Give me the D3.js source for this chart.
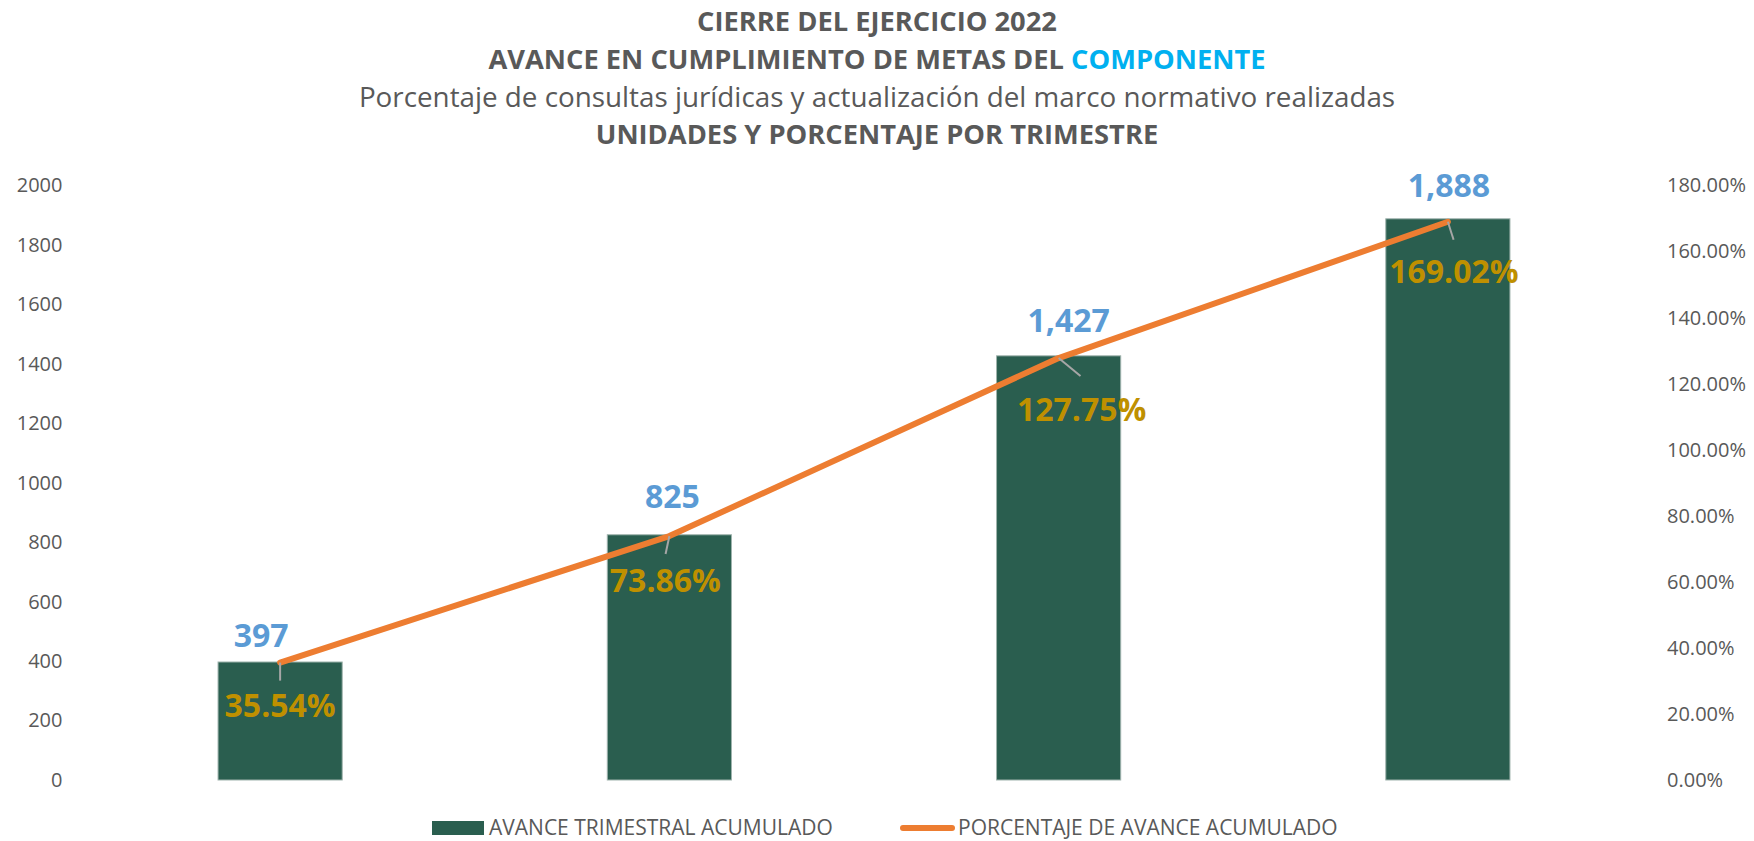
<!DOCTYPE html>
<html>
<head>
<meta charset="utf-8">
<script src="https://cdn.jsdelivr.net/npm/d3@7"></script>
<style>
  body { margin: 0; background: #fff; }
  svg text { font-family: "Open Sans", sans-serif; }
  .axis text { fill: #595959; font-size: 20px; }
</style>
</head>
<body>
<div id="chart"></div>
<script>
// data
var quarters = ["Trimestre 1", "Trimestre 2", "Trimestre 3", "Trimestre 4"];
var avance = [397, 825, 1427, 1888];
var porcentaje = [0.3554, 0.7386, 1.2775, 1.6902];
var leftTicks = [0, 200, 400, 600, 800, 1000, 1200, 1400, 1600, 1800, 2000];
var rightTicks = [0, 0.2, 0.4, 0.6, 0.8, 1.0, 1.2, 1.4, 1.6, 1.8];

// hand placed label nudges (px), like the excel data labels
var valueNudge = [[-19, -15], [3, -27], [10, -24], [1, -22]];
var pctNudge = [[0, 54], [-4, 56], [23, 63], [6, 61]];

var W = 1754, H = 841;
var margin = { top: 185.5, right: 111.5, bottom: 61, left: 85.5 },
    w = W - margin.left - margin.right,
    h = H - margin.top - margin.bottom;

var svg = d3.select('#chart')
    .append('svg')
    .attr('width', W)
    .attr('height', H);

// titles
var titles = svg.append('g').attr('fill', '#595959').attr('text-anchor', 'middle');
titles.append('text').attr('x', W / 2).attr('y', 31)
    .style('font-size', '27.3px').style('font-weight', 700)
    .text('CIERRE DEL EJERCICIO 2022');
var t2 = titles.append('text').attr('x', W / 2).attr('y', 69)
    .style('font-size', '27.3px').style('font-weight', 700);
t2.append('tspan').text('AVANCE EN CUMPLIMIENTO DE METAS DEL ');
t2.append('tspan').attr('fill', '#00B0F0').text('COMPONENTE');
titles.append('text').attr('x', W / 2).attr('y', 107)
    .style('font-size', '27.8px')
    .text('Porcentaje de consultas jurídicas y actualización del marco normativo realizadas');
titles.append('text').attr('x', W / 2).attr('y', 144)
    .style('font-size', '27.3px').style('font-weight', 700)
    .text('UNIDADES Y PORCENTAJE POR TRIMESTRE');

var g = svg.append('g')
    .attr('transform', `translate(${margin.left},${margin.top})`);

var xScale = d3.scaleBand()
    .domain(quarters)
    .range([0, w])
    .paddingInner(0.681)
    .paddingOuter(0.3405);

var yScale = d3.scaleLinear().domain([0, 2000]).range([h, 0]);
var y2Scale = d3.scaleLinear().domain([0, 1.8]).range([h, 0]);

var yAxis = d3.axisLeft(yScale).tickValues(leftTicks).tickSize(0).tickPadding(23)
    .tickFormat(d3.format('d'));
var y2Axis = d3.axisRight(y2Scale).tickValues(rightTicks).tickSize(0).tickPadding(24.5)
    .tickFormat(d3.format('.2%'));

g.append('g').attr('class', 'axis').call(yAxis)
    .call(function (a) { a.select('.domain').remove(); })
    .selectAll('text').style('font-family', '"Open Sans", sans-serif');

g.append('g').attr('class', 'axis')
    .attr('transform', `translate(${w},0)`)
    .call(y2Axis)
    .call(function (a) { a.select('.domain').remove(); })
    .selectAll('text').style('font-family', '"Open Sans", sans-serif');

var rows = quarters.map(function (q, i) {
    return { q: q, v: avance[i], p: porcentaje[i], i: i };
});

// bars
g.selectAll('.bar')
    .data(rows)
    .enter()
    .append('rect')
    .attr('class', 'bar')
    .attr('x', function (d) { return xScale(d.q); })
    .attr('y', function (d) { return yScale(d.v); })
    .attr('width', xScale.bandwidth())
    .attr('height', function (d) { return h - yScale(d.v); })
    .attr('fill', '#2A5E4F')
    .attr('stroke', '#9fb3ad')
    .attr('stroke-width', 1);

function cx(d) { return xScale(d.q) + xScale.bandwidth() / 2; }

// line
var line = d3.line()
    .x(cx)
    .y(function (d) { return y2Scale(d.p); });

g.append('path')
    .datum(rows)
    .attr('d', line)
    .attr('fill', 'none')
    .attr('stroke', '#ED7D31')
    .attr('stroke-width', 6)
    .attr('stroke-linecap', 'round')
    .attr('stroke-linejoin', 'round');

// leader lines from points to the percent labels
g.selectAll('.leader')
    .data(rows)
    .enter()
    .append('line')
    .attr('class', 'leader')
    .attr('x1', cx)
    .attr('y1', function (d) { return y2Scale(d.p); })
    .attr('x2', function (d) { return cx(d) + pctNudge[d.i][0] * 0.95; })
    .attr('y2', function (d) { return y2Scale(d.p) + 18; })
    .attr('stroke', '#A6A6A6')
    .attr('stroke-width', 2);

// value labels
g.selectAll('.vlabel')
    .data(rows)
    .enter()
    .append('text')
    .attr('class', 'vlabel')
    .attr('text-anchor', 'middle')
    .attr('x', function (d) { return cx(d) + valueNudge[d.i][0]; })
    .attr('y', function (d) { return yScale(d.v) + valueNudge[d.i][1]; })
    .attr('fill', '#5B9BD5')
    .style('font-size', '32px')
    .style('font-weight', 700)
    .text(function (d) { return d3.format(',')(d.v); });

// percent labels
g.selectAll('.plabel')
    .data(rows)
    .enter()
    .append('text')
    .attr('class', 'plabel')
    .attr('text-anchor', 'middle')
    .attr('x', function (d) { return cx(d) + pctNudge[d.i][0]; })
    .attr('y', function (d) { return y2Scale(d.p) + pctNudge[d.i][1]; })
    .attr('fill', '#BF9000')
    .style('font-size', '32px')
    .style('font-weight', 700)
    .text(function (d) { return d3.format('.2%')(d.p); });

// legend
var legend = svg.append('g').attr('transform', 'translate(0,828)');
legend.append('rect')
    .attr('x', 432).attr('y', -7).attr('width', 52).attr('height', 14)
    .attr('fill', '#2A5E4F');
legend.append('text')
    .attr('x', 489).attr('y', 6.5)
    .attr('fill', '#595959').style('font-size', '21px')
    .text('AVANCE TRIMESTRAL ACUMULADO');
legend.append('line')
    .attr('x1', 903).attr('x2', 952).attr('y1', 0).attr('y2', 0)
    .attr('stroke', '#ED7D31').attr('stroke-width', 6).attr('stroke-linecap', 'round');
legend.append('text')
    .attr('x', 958).attr('y', 6.5)
    .attr('fill', '#595959').style('font-size', '21px')
    .text('PORCENTAJE DE AVANCE ACUMULADO');
</script>
</body>
</html>
